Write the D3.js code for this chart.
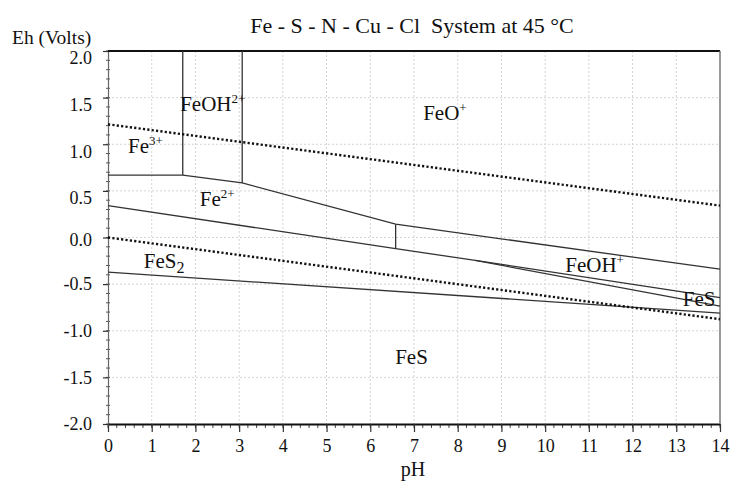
<!DOCTYPE html>
<html>
<head>
<meta charset="utf-8">
<script src="https://cdn.jsdelivr.net/npm/d3@7"></script>
<style>
  body { margin: 0; background: #fff; }
  text { font-family: "Liberation Serif", "Times New Roman", serif; fill: #111; }
</style>
</head>
<body>
<div id="chart"></div>
<script>
// boundary lines, [pH, Eh]
const fe3Fe2 = [[0, 0.668], [1.71, 0.668]];
const fe3FeOH = [[1.71, 2.0], [1.71, 0.668]];
const feOHFeO = [[3.07, 2.0], [3.07, 0.585]];
const fe2Upper = [[1.71, 0.668], [3.07, 0.585], [6.58, 0.143], [14, -0.34]];
const fe2Vert = [[6.58, 0.143], [6.58, -0.119]];
const fe2FeS2 = [[0, 0.342], [6.58, -0.119], [8.4, -0.246], [14, -0.644]];
const feOHFeS = [[8.4, -0.246], [14, -0.735]];
const feS2FeS = [[0, -0.372], [14, -0.81]];
const waterUpper = [[0, 1.214], [14, 0.342]];
const waterLower = [[0, 0.0], [14, -0.876]];

const solidLines = [fe3Fe2, fe3FeOH, feOHFeO, fe2Upper, fe2Vert, fe2FeS2, feOHFeS, feS2FeS];
const dottedLines = [waterUpper, waterLower];

// species labels
const labelBase = ["Fe", "FeOH", "FeO", "Fe", "FeS", "FeOH", "FeS", "FeS"];
const labelSup = ["3+", "2+", "+", "2+", "", "+", "", ""];
const labelSub = ["", "", "", "", "2", "", "", ""];
const labelPH = [0.46, 1.65, 7.21, 2.1, 0.82, 10.46, 13.15, 6.57];
const labelEh = [0.91, 1.357, 1.26, 0.339, -0.326, -0.365, -0.733, -1.355];

const xTicks = d3.range(0, 15);
const yTicks = [-2.0, -1.5, -1.0, -0.5, 0.0, 0.5, 1.0, 1.5, 2.0];

const margin = { top: 51, right: 12, bottom: 61, left: 108 },
      width = 732 - margin.left - margin.right,
      height = 485 - margin.top - margin.bottom;

// the original program nudges some y labels down a little
const yLabelNudge = v => (v > 0.25 ? 7 : (v > -0.25 ? 2 : 0));
const fmtY = v => d3.format(".1f")(v).replace("−", "-");

const root = d3.select("#chart").append("svg")
    .attr("width", 732)
    .attr("height", 485);

const svg = root.append("g")
    .attr("transform", `translate(${margin.left},${margin.top})`);

const x = d3.scaleLinear().domain([0, 14]).range([0, width]);
const y = d3.scaleLinear().domain([-2, 2]).range([height, 0]);

// grid
svg.append("g").selectAll("line")
    .data(xTicks.slice(1, -1))
    .enter().append("line")
    .attr("x1", d => x(d)).attr("x2", d => x(d))
    .attr("y1", 0).attr("y2", height)
    .attr("stroke", "#d4d4d4").attr("stroke-dasharray", "2,2");

svg.append("g").selectAll("line")
    .data(yTicks.slice(1, -1))
    .enter().append("line")
    .attr("x1", 0).attr("x2", width)
    .attr("y1", d => y(d)).attr("y2", d => y(d))
    .attr("stroke", "#d4d4d4").attr("stroke-dasharray", "2,2");

// minor ticks
svg.append("g").selectAll("line")
    .data(d3.range(0, 14.01, 0.2))
    .enter().append("line")
    .attr("x1", d => x(d)).attr("x2", d => x(d))
    .attr("y1", height).attr("y2", height + 4)
    .attr("stroke", "#444");

svg.append("g").selectAll("line")
    .data(d3.range(-2, 2.001, 0.1))
    .enter().append("line")
    .attr("x1", -2).attr("x2", 2)
    .attr("y1", d => y(d)).attr("y2", d => y(d))
    .attr("stroke", "#555");

// axes
const xAxis = svg.append("g")
    .attr("transform", `translate(0,${height})`)
    .call(d3.axisBottom(x).tickValues(xTicks).tickFormat(d3.format("d")).tickSize(8).tickSizeOuter(0));
xAxis.select(".domain").attr("stroke", "#111").attr("stroke-width", 2.2);
xAxis.selectAll(".tick line").attr("stroke", "#333").attr("stroke-width", 1.2);
xAxis.selectAll("text")
    .attr("font-size", 18).attr("fill", "#111").attr("dy", "0.95em");

const yAxis = svg.append("g")
    .call(d3.axisLeft(y).tickValues(yTicks).tickFormat(fmtY).tickSize(5).tickSizeOuter(0));
yAxis.select(".domain").attr("stroke", "#666").attr("stroke-width", 1.2);
yAxis.selectAll(".tick line").attr("stroke", "#333").attr("stroke-width", 1.2);
yAxis.selectAll("text")
    .attr("font-size", 18).attr("fill", "#111").attr("x", -16)
    .attr("y", d => yLabelNudge(d));

// frame top + right
svg.append("line").attr("x1", 0).attr("x2", width).attr("y1", 0).attr("y2", 0)
    .attr("stroke", "#111").attr("stroke-width", 2.2);
svg.append("line").attr("x1", width).attr("x2", width).attr("y1", 0).attr("y2", height)
    .attr("stroke", "#777").attr("stroke-width", 1.5);

const line = d3.line().x(d => x(d[0])).y(d => y(d[1]));

svg.append("g").selectAll("path")
    .data(solidLines)
    .enter().append("path")
    .attr("d", line)
    .attr("fill", "none")
    .attr("stroke", "#333")
    .attr("stroke-width", 1.3);

svg.append("g").selectAll("path")
    .data(dottedLines)
    .enter().append("path")
    .attr("d", line)
    .attr("fill", "none")
    .attr("stroke", "#111")
    .attr("stroke-width", 2.4)
    .attr("stroke-dasharray", "2.2,2.2");

// species labels
labelBase.forEach((b, i) => {
    const t = svg.append("text")
        .attr("x", x(labelPH[i]))
        .attr("y", y(labelEh[i]))
        .attr("font-size", 21);
    t.append("tspan").text(b);
    if (labelSup[i]) t.append("tspan").attr("font-size", 13).attr("dy", -8).text(labelSup[i]);
    if (labelSub[i]) t.append("tspan").attr("font-size", 16).attr("dy", 5).text(labelSub[i]);
});

// titles
root.append("text")
    .attr("x", 412).attr("y", 33)
    .attr("text-anchor", "middle")
    .attr("font-size", 22)
    .attr("xml:space", "preserve")
    .text("Fe - S - N - Cu - Cl  System at 45 °C");

root.append("text")
    .attr("x", 12).attr("y", 44)
    .attr("font-size", 19.5)
    .text("Eh (Volts)");

root.append("text")
    .attr("x", 413).attr("y", 476)
    .attr("text-anchor", "middle")
    .attr("font-size", 20)
    .text("pH");
</script>
</body>
</html>
